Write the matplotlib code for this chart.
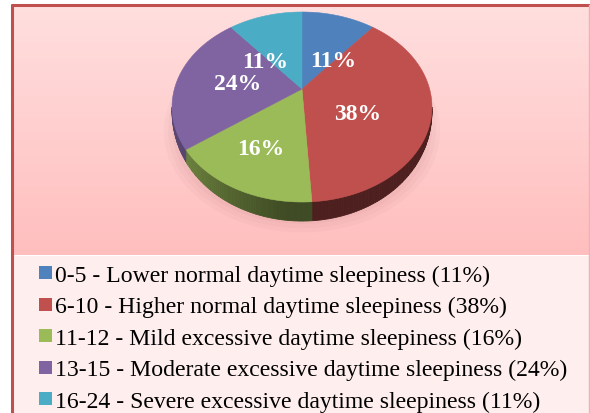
import numpy as np
import matplotlib
matplotlib.use("Agg")
import matplotlib.pyplot as plt
from matplotlib.patches import Rectangle
from matplotlib.colors import to_rgb, LinearSegmentedColormap

# ---- data ----
categories = [
    "0-5 - Lower normal daytime sleepiness",
    "6-10 - Higher normal daytime sleepiness",
    "11-12 - Mild excessive daytime sleepiness",
    "13-15 - Moderate excessive daytime sleepiness",
    "16-24 - Severe excessive daytime sleepiness",
]
values = [11, 38, 16, 24, 11]
pct_labels = ["11%", "38%", "16%", "24%", "11%"]
colors = ["#4F81BD", "#C0504D", "#9BBB59", "#8064A2", "#4BACC6"]

# ---- layout (pixel space) ----
W, H = 590, 414
cx, cy = 302, 90          # apex of pie (projected centre)
A, B, K = 127.6, 91.6, 0.1895
DEPTH = 19
label_xy = [(333, 67), (358, 120), (261, 155), (238, 90), (265, 68)]  # baseline positions

fig = plt.figure(figsize=(W / 100, H / 100), dpi=100)
ax = fig.add_axes([0, 0, 1, 1])
ax.set_xlim(0, W)
ax.set_ylim(H, 0)
ax.axis("off")

# background
fig.patch.set_facecolor("white")
grad = np.linspace(0, 1, 256).reshape(-1, 1)
cmap = LinearSegmentedColormap.from_list("bg", ["#FFDFDF", "#FFBEBE"])
ax.imshow(grad, cmap=cmap, extent=[12, 588.5, 256.5, 6], aspect="auto", zorder=0)
ax.add_patch(Rectangle((12, 256.5), 576.5, H - 256.5, facecolor="#FFEEEE",
                       edgecolor="none", zorder=0))
# frame
ax.plot([12, 12], [5, H], color="#C0504D", lw=2.2, zorder=5, solid_capstyle="butt")
ax.plot([11, W], [5.5, 5.5], color="#C0504D", lw=2.2, zorder=5, solid_capstyle="butt")
ax.plot([588.7, 588.7], [6, H], color="#E8B4B4", lw=1.0, zorder=5)


def proj(x, y):
    w = 1 + K * y
    return cx + A * x / w, cy - B * y / w


# wedge angles (start at top, clockwise)
vals = np.array(values, dtype=float)
edges = 90 - 360 * np.concatenate([[0], np.cumsum(vals)]) / vals.sum()

# soft shadow
for a, s in [(0.05, 1.06), (0.05, 1.03), (0.06, 1.0)]:
    t = np.radians(np.linspace(0, 360, 300))
    px, py = proj(s * np.cos(t), s * np.sin(t))
    ax.fill(px, np.array(py) + DEPTH + 3, color="#B07070", alpha=a, lw=0, zorder=1)


def depth_at(tdeg):
    s = -np.sin(np.radians(tdeg))
    f = np.clip((s - K) / (1 - K), 0, 1)
    return DEPTH * (0.15 + 0.85 * f ** 0.8)


# side walls
t_vis0 = -180 + np.degrees(np.arcsin(K))
t_vis1 = -np.degrees(np.arcsin(K))
for i in range(len(vals)):
    t_hi, t_lo = edges[i], edges[i + 1]
    lo, hi = max(t_lo, t_vis0), min(t_hi, t_vis1)
    if lo >= hi:
        continue
    n = int(np.ceil((hi - lo) / 1.0))
    ts = np.linspace(lo, hi, n + 1)
    base = np.array(to_rgb(colors[i]))
    for a0, a1 in zip(ts[:-1], ts[1:]):
        td = np.linspace(a0, a1, 4)
        tt = np.radians(td)
        px, py = proj(np.cos(tt), np.sin(tt))
        px = np.asarray(px); py = np.asarray(py)
        xs = np.concatenate([px, px[::-1]])
        ys = np.concatenate([py, (py + depth_at(td))[::-1]])
        am = 0.5 * (a0 + a1)
        f = np.interp(am, [-170, -140, -95, -10], [0.72, 0.68, 0.40, 0.40])
        c = np.clip(base * f, 0, 1)
        ax.fill(xs, ys, color=c, lw=0.6, ec=c, zorder=2)

# top faces
for i in range(len(vals)):
    tt = np.radians(np.linspace(edges[i], edges[i + 1], 200))
    px, py = proj(np.cos(tt), np.sin(tt))
    xs = np.concatenate([[cx], px])
    ys = np.concatenate([[cy], py])
    ax.fill(xs, ys, color=colors[i], ec=colors[i], lw=0.4, zorder=3)

# data labels
for (lx, ly), txt in zip(label_xy, pct_labels):
    ax.text(lx, ly, txt, color="white", fontsize=17, fontweight="bold",
            family="Liberation Serif", ha="center", va="baseline", zorder=6)

# legend
for i, (cat, p) in enumerate(zip(categories, pct_labels)):
    yc = 273.5 + 31.5 * i
    ax.add_patch(Rectangle((38.5, yc - 6.5), 13.5, 13, facecolor=colors[i],
                           edgecolor="none", zorder=4))
    ax.text(55, yc + 8.3, f"{cat} ({p})", color="black", fontsize=17.1,
            family="Liberation Serif", ha="left", va="baseline", zorder=4)

fig.savefig("out.png", dpi=100)
